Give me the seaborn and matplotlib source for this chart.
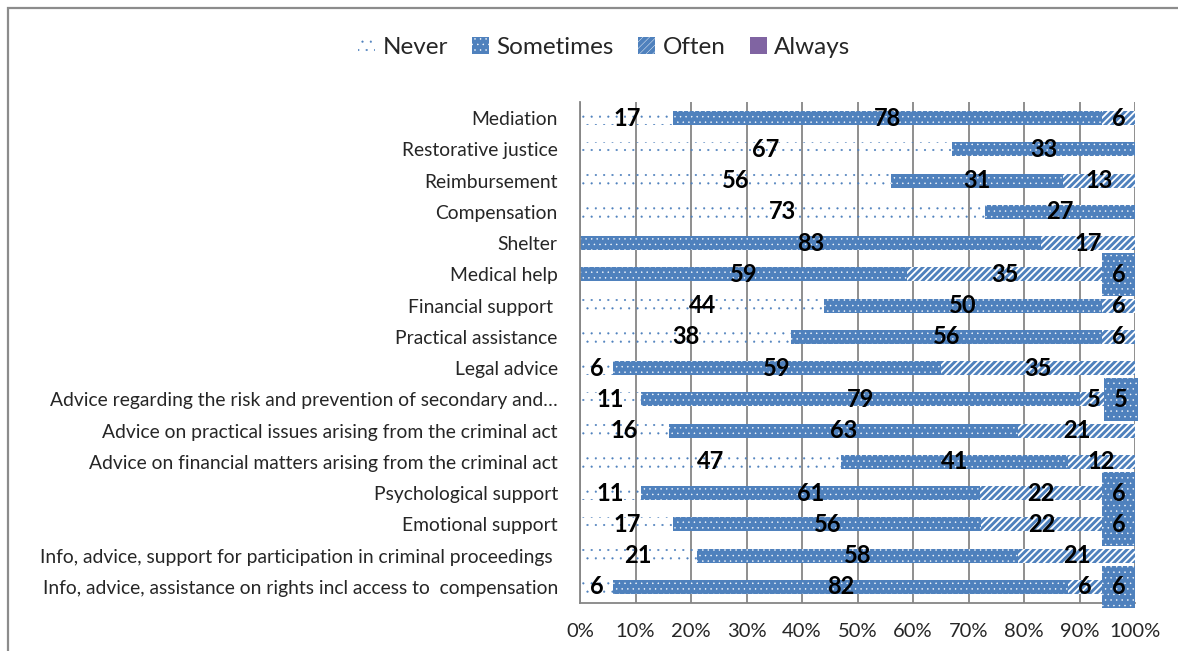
import numpy as np
import pandas as pd
import matplotlib
matplotlib.use("Agg")
import matplotlib.pyplot as plt
from matplotlib.patches import Patch, Rectangle
import seaborn as sns

# data (percent of respondents)
services = ["Mediation", "Restorative justice", "Reimbursement", "Compensation", "Shelter",
            "Medical help", "Financial support ", "Practical assistance", "Legal advice",
            "Advice regarding the risk and prevention of secondary and\u2026",
            "Advice on practical issues arising from the criminal act",
            "Advice on financial matters arising from the criminal act",
            "Psychological support", "Emotional support",
            "Info, advice, support for participation in criminal proceedings ",
            "Info, advice, assistance on rights incl access to  compensation"]
never = [17, 67, 56, 73, 0, 0, 44, 38, 6, 11, 16, 47, 11, 17, 21, 6]
sometimes = [78, 33, 31, 27, 83, 59, 50, 56, 59, 79, 63, 41, 61, 56, 58, 82]
often = [6, 0, 13, 0, 17, 35, 6, 6, 35, 5, 21, 12, 22, 22, 21, 6]
always = [0, 0, 0, 0, 0, 6, 0, 0, 0, 5, 0, 0, 6, 6, 0, 6]
levels = ["Never", "Sometimes", "Often", "Always"]
xticks = [0, 10, 20, 30, 40, 50, 60, 70, 80, 90, 100]

df = pd.DataFrame({"service": services, "Never": never, "Sometimes": sometimes,
                   "Often": often, "Always": always})
share = df[levels].div(df[levels].sum(axis=1), axis=0) * 100

blue = "#4F81BD"
purple = "#8064A2"
grey = "#868686"

sns.set_style("white")
plt.rcParams["font.family"] = ["Lato", "DejaVu Sans"]

# facecolor, hatch colour (edgecolor) and hatch per answer
styles = {
    "Never": dict(facecolor="none", edgecolor=blue, hatch=".."),
    "Sometimes": dict(facecolor=blue, edgecolor="white", hatch="..."),
    "Often": dict(facecolor=blue, edgecolor="white", hatch="/////"),
    "Always": dict(facecolor=purple, edgecolor=purple, hatch=None),
}
hatch_lw = {"Never": 0.3, "Sometimes": 0.3, "Often": 1.3, "Always": 1.0}


def set_hlw(patch, lw):
    if hasattr(patch, "set_hatch_linewidth"):
        patch.set_hatch_linewidth(lw)


fig = plt.figure(figsize=(11.78, 6.51), dpi=100)
ax = fig.add_axes([0.4924, 0.0744, 0.4711, 0.7683])
ax.set_axisbelow(True)

left = np.zeros(len(df))
for lvl in levels:
    plt.rcParams["hatch.linewidth"] = hatch_lw[lvl]
    sns.barplot(x=share[lvl].values, y=df["service"], order=services, left=left,
                width=0.45, errorbar=None, color=blue, saturation=1, linewidth=0,
                ax=ax, **styles[lvl])
    for p in ax.containers[-1]:
        set_hlw(p, hatch_lw[lvl])
    labs = [str(v) if v else "" for v in df[lvl]]
    if lvl == "Always":
        # Always labels sit in a dotted blue box, as in the original
        plt.rcParams["hatch.linewidth"] = 0.3
        texts = ax.bar_label(ax.containers[-1], labels=labs, label_type="center",
                             fontsize=17, fontweight="bold", color="black",
                             bbox=dict(boxstyle="square,pad=0.42", facecolor=blue,
                                       edgecolor="white", hatch="...", linewidth=0))
        for t in texts:
            if t.get_bbox_patch() is not None:
                set_hlw(t.get_bbox_patch(), 0.3)
    else:
        ax.bar_label(ax.containers[-1], labels=labs, label_type="center",
                     fontsize=17, fontweight="bold", color="black")
    left = left + share[lvl].values

ax.set_xlim(0, 100)
ax.set_xticks(xticks)
ax.set_xticklabels([f"{t}%" for t in xticks], fontsize=14.5)
ax.xaxis.grid(True, color=grey, linewidth=1.3)
ax.set_xlabel("")
ax.set_ylabel("")
ax.tick_params(axis="y", which="major", length=0, pad=16, labelsize=13.9)
ax.set_yticks(np.arange(-0.5, len(services), 1), minor=True)
ax.tick_params(axis="y", which="minor", length=5, width=1.3, color=grey, direction="out")
ax.tick_params(axis="x", length=5, width=1.3, color=grey, direction="out", pad=10)
for s in ["top", "right"]:
    ax.spines[s].set_visible(False)
for s in ["left", "bottom"]:
    ax.spines[s].set_color(grey)
    ax.spines[s].set_linewidth(1.3)

plt.rcParams["hatch.linewidth"] = 0.3
handles = [Patch(label=lvl, linewidth=0, **styles[lvl]) for lvl in levels]
fig.legend(handles=handles, loc="center", bbox_to_anchor=(0.513, 0.927), ncol=4,
           frameon=False, fontsize=17.5, handlelength=0.7, handleheight=0.7,
           handletextpad=0.3, columnspacing=1.0)

# chart border (right and bottom edges fall outside the picture)
fig.patches.append(Rectangle((8 / 1178, -0.1), 1.2, 1.1 - 8 / 651, transform=fig.transFigure,
                             fill=False, edgecolor="#8c8c8c", linewidth=1.6))

fig.savefig("out.png", dpi=100)
